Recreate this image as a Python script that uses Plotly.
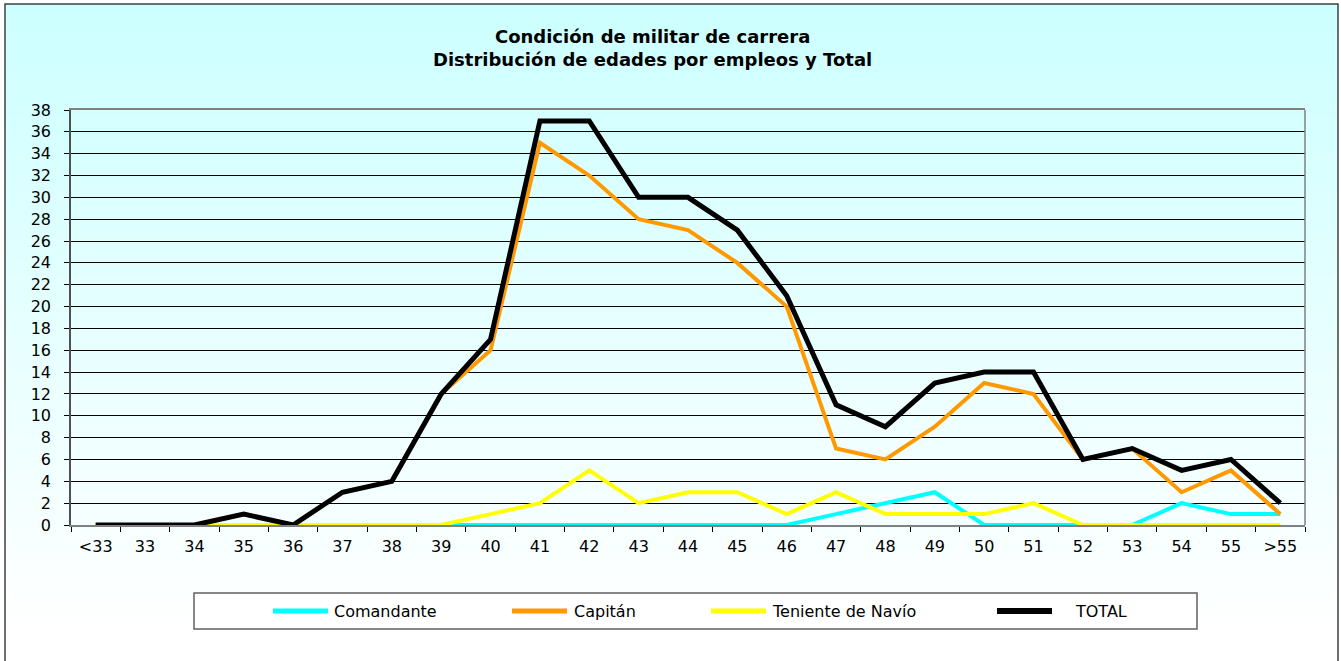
import plotly.graph_objects as go

categories = ["<33", "33", "34", "35", "36", "37", "38", "39", "40", "41", "42", "43",
              "44", "45", "46", "47", "48", "49", "50", "51", "52", "53", "54", "55", ">55"]
comandante = [0, 0, 0, 0, 0, 0, 0, 0, 0, 0, 0, 0, 0, 0, 0, 1, 2, 3, 0, 0, 0, 0, 2, 1, 1]
capitan = [0, 0, 0, 1, 0, 3, 4, 12, 16, 35, 32, 28, 27, 24, 20, 7, 6, 9, 13, 12, 6, 7, 3, 5, 1]
teniente = [0, 0, 0, 0, 0, 0, 0, 0, 1, 2, 5, 2, 3, 3, 1, 3, 1, 1, 1, 2, 0, 0, 0, 0, 0]
total = [0, 0, 0, 1, 0, 3, 4, 12, 17, 37, 37, 30, 30, 27, 21, 11, 9, 13, 14, 14, 6, 7, 5, 6, 2]
y_ticks = list(range(0, 39, 2))
series_names = ["Comandante", "Capitán", "Teniente de Navío", "TOTAL"]
title_lines = ["Condición de militar de carrera", "Distribución de edades por empleos y Total"]

W, H = 1341, 661
L, R, T, B = 71, 1305, 110, 525


def px_x(p):
    return (p - L) / (R - L)


def px_y(p):
    return (B - p) / (B - T)


FONT = "DejaVu Sans, Verdana, sans-serif"

colors = ["#00FFFF", "#FF9900", "#FFFF00", "#000000"]
widths = [4, 4, 4, 5]
values = [comandante, capitan, teniente, total]

fig = go.Figure()
for name, vals, col, w in zip(series_names, values, colors, widths):
    fig.add_trace(go.Scatter(x=categories, y=vals, mode="lines", name=name,
                             line=dict(color=col, width=w), hoverinfo="x+y+name"))

shapes = []
# vertical gradient background inside the chart border
top_y, bot_y = 4, 661
N = 70
for i in range(N):
    y0 = top_y + (bot_y - top_y) * i / N
    y1 = top_y + (bot_y - top_y) * (i + 1) / N + 0.6
    t = (i + 0.5) / N
    r = int(round(204 + (255 - 204) * min(1.0, t * 1.05)))
    shapes.append(dict(type="rect", xref="paper", yref="paper",
                       x0=px_x(5), x1=px_x(1338), y0=px_y(y1), y1=px_y(y0),
                       fillcolor=f"rgb({r},255,255)", line=dict(width=0), layer="below"))
# outer border
shapes.append(dict(type="rect", xref="paper", yref="paper",
                   x0=px_x(5), x1=px_x(1338), y0=px_y(675), y1=px_y(4),
                   line=dict(color="#404040", width=1.5), fillcolor="rgba(0,0,0,0)", layer="below"))
# right border of plot area
shapes.append(dict(type="line", xref="paper", yref="paper", x0=1, x1=1, y0=0, y1=1,
                   line=dict(color="#808080", width=1.5), layer="above"))
# legend box
shapes.append(dict(type="rect", xref="paper", yref="paper",
                   x0=px_x(194), x1=px_x(1197), y0=px_y(629), y1=px_y(593),
                   line=dict(color="#606060", width=1.5), fillcolor="rgba(255,255,255,0.7)", layer="below"))

# legend swatches and labels
sw_start = [273, 512, 711, 997]
sw_len = 55
txt_start = [332, 572, 770, 1073]
leg_yc = 611
annotations = []
for name, col, w, s, tx in zip(series_names, colors, widths, sw_start, txt_start):
    shapes.append(dict(type="line", xref="paper", yref="paper",
                       x0=px_x(s), x1=px_x(s + sw_len), y0=px_y(leg_yc), y1=px_y(leg_yc),
                       line=dict(color=col, width=w + 1)))
    annotations.append(dict(text=name, xref="paper", yref="paper", x=px_x(tx), y=px_y(leg_yc),
                            xanchor="left", yanchor="middle", showarrow=False,
                            font=dict(family=FONT, size=16, color="#000000")))

annotations.append(dict(text="<b>" + "<br>".join(title_lines) + "</b>",
                        xref="paper", yref="paper", x=px_x(652), y=px_y(48.5),
                        xanchor="center", yanchor="middle", showarrow=False,
                        font=dict(family=FONT, size=18, color="#000000")))

fig.update_layout(
    width=W, height=H,
    margin=dict(l=L, r=W - R, t=T, b=H - B),
    paper_bgcolor="#FFFFFF",
    plot_bgcolor="rgba(0,0,0,0)",
    shapes=shapes,
    annotations=annotations,
    showlegend=False,
    xaxis=dict(type="category", range=[-0.5, 24.5], tickson="boundaries",
               ticks="outside", ticklen=5, tickcolor="#000000", ticklabelstandoff=6,
               showgrid=False, showline=True, linecolor="#808080", linewidth=1.5, mirror=True,
               tickfont=dict(family=FONT, size=16, color="#000000"), fixedrange=True),
    yaxis=dict(range=[0, 38], tickvals=y_ticks, ticks="outside", ticklen=5, tickcolor="#000000",
               ticklabelstandoff=10,
               showgrid=True, gridcolor="#000000", gridwidth=1, zeroline=False,
               showline=True, linecolor="#505050", linewidth=1.5, mirror=False,
               tickfont=dict(family=FONT, size=16, color="#000000"), fixedrange=True),
)

fig.write_html("out.html", config={"displayModeBar": False},
               post_script="document.body.style.margin='0';")
